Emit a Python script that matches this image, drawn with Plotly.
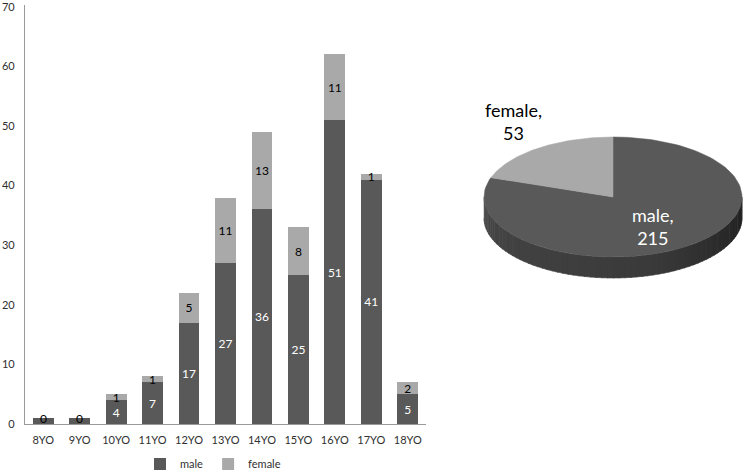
import numpy as np
import plotly.graph_objects as go

# ---------------- data ----------------
categories = ["8YO", "9YO", "10YO", "11YO", "12YO", "13YO", "14YO", "15YO", "16YO", "17YO", "18YO"]
male = [1, 1, 4, 7, 17, 27, 36, 25, 51, 41, 5]
female = [0, 0, 1, 1, 5, 11, 13, 8, 11, 1, 2]
male_text = ["", "", "4", "7", "17", "27", "36", "25", "51", "41", "5"]
y_ticks = [0, 10, 20, 30, 40, 50, 60, 70]

pie_labels = ["male", "female"]
pie_values = [215, 53]

# ---------------- style ----------------
MALE_C = "#595959"
FEMALE_C = "#a9a9a9"
FONT = "Lato"
W, H = 744, 472

fig = go.Figure()

fig.add_trace(go.Bar(
    x=categories, y=male, name="male", marker=dict(color=MALE_C, line=dict(width=0)),
    text=male_text, textposition="inside", insidetextanchor="middle", textangle=0,
    constraintext="none", textfont=dict(color="white", size=12, family=FONT),
    hoverinfo="x+y",
))
fig.add_trace(go.Bar(
    x=categories, y=female, name="female", marker=dict(color=FEMALE_C, line=dict(width=0)),
    text=[str(v) if v > 0 else "" for v in female], textposition="inside",
    insidetextanchor="middle", textangle=0, constraintext="none",
    textfont=dict(color="black", size=12, family=FONT),
    hoverinfo="x+y",
))

# zero-value female labels sit on top of the stack
for c, m, f in zip(categories, male, female):
    if f == 0:
        fig.add_annotation(x=c, y=m + f, xref="x", yref="y", text=str(f), showarrow=False,
                           font=dict(color="black", size=12, family=FONT), yanchor="middle")

# ---------------- 3D-looking pie (pixel-unit axes) ----------------
cx, cy, rx, ry, depth = 613, 197, 129, 60, 21
total = sum(pie_values)
fem_sweep = 360.0 * pie_values[1] / total
start = 90.0  # female wedge starts at 12 o'clock, going counter-clockwise


def arc(t0, t1, n=120):
    t = np.radians(np.linspace(t0, t1, n))
    return cx + rx * np.cos(t), cy - ry * np.sin(t)


# side (front half) with gradient strips
N = 70
edges = np.linspace(180, 360, N + 1)
for i in range(N):
    t0, t1 = edges[i], edges[i + 1] + 0.4
    ax_, ay_ = arc(t0, min(t1, 360), 6)
    xs = list(ax_) + list(ax_[::-1])
    ys = list(ay_) + list(ay_[::-1] + depth)
    frac = (i + 0.5) / N
    if frac < 0.04:
        g = 0x5a - (0x5a - 0x46) * frac / 0.04
    elif frac < 0.6:
        g = 0x46 - (0x46 - 0x3a) * (frac - 0.04) / 0.56
    else:
        g = 0x3a - (0x3a - 0x1e) * (frac - 0.6) / 0.4
    g = int(g)
    col = f"rgb({g},{g},{g})"
    fig.add_trace(go.Scatter(x=xs, y=ys, xaxis="x2", yaxis="y2", mode="lines", fill="toself",
                             fillcolor=col, line=dict(color=col, width=0.6),
                             hoverinfo="skip", showlegend=False))

# top face wedges
mx, my = arc(start + fem_sweep, start + 360)
fig.add_trace(go.Scatter(x=[cx] + list(mx) + [cx], y=[cy] + list(my) + [cy], xaxis="x2", yaxis="y2",
                         mode="lines", fill="toself", fillcolor=MALE_C, line=dict(color=MALE_C, width=0.5),
                         hoverinfo="skip", showlegend=False))
fx, fy = arc(start, start + fem_sweep)
fig.add_trace(go.Scatter(x=[cx] + list(fx) + [cx], y=[cy] + list(fy) + [cy], xaxis="x2", yaxis="y2",
                         mode="lines", fill="toself", fillcolor=FEMALE_C, line=dict(color=FEMALE_C, width=0.5),
                         hoverinfo="skip", showlegend=False))

fig.add_annotation(x=513, y=121, xref="x2", yref="y2", showarrow=False,
                   text=f"{pie_labels[1]},<br>{pie_values[1]}",
                   font=dict(size=18, color="black", family=FONT), align="center")
fig.add_annotation(x=653, y=226, xref="x2", yref="y2", showarrow=False,
                   text=f"{pie_labels[0]},<br>{pie_values[0]}",
                   font=dict(size=18, color="white", family=FONT), align="center")

# ---------------- layout ----------------
fig.update_layout(
    width=W, height=H,
    margin=dict(l=0, r=0, t=0, b=0, autoexpand=False),
    paper_bgcolor="white", plot_bgcolor="rgba(0,0,0,0)",
    barmode="stack", bargap=0.43,
    font=dict(family=FONT, size=11, color="#404040"),
    xaxis=dict(domain=[25 / W, 426 / W], showgrid=False, zeroline=False, showline=True,
               linecolor="#9a9a9a", linewidth=1, ticks="", tickfont=dict(size=11, color="#303030"),
               ticklabelstandoff=6, automargin=False, fixedrange=True),
    yaxis=dict(domain=[(H - 424) / H, (H - 5) / H], range=[0, 70.3], tickvals=y_ticks,
               showgrid=False, zeroline=False, showline=True, linecolor="#9a9a9a", linewidth=1.2,
               ticks="", tickfont=dict(size=11, color="#303030"), ticklabelstandoff=7,
               ticklabeloverflow="allow", automargin=False, fixedrange=True),
    xaxis2=dict(domain=[455 / W, 1], range=[455, W], visible=False, fixedrange=True, anchor="y2"),
    yaxis2=dict(domain=[0, 1], range=[H, 0], visible=False, fixedrange=True, anchor="x2"),
    legend=dict(orientation="h", x=213 / W, xanchor="center", y=(H - 464) / H, yanchor="middle",
                font=dict(size=11, color="#303030"), itemwidth=30, tracegroupgap=0,
                traceorder="normal", bgcolor="rgba(0,0,0,0)"),
    showlegend=True,
)

fig.write_html("out.html", config={"displayModeBar": False},
               post_script="document.body.style.margin='0';document.body.style.overflow='hidden';")
